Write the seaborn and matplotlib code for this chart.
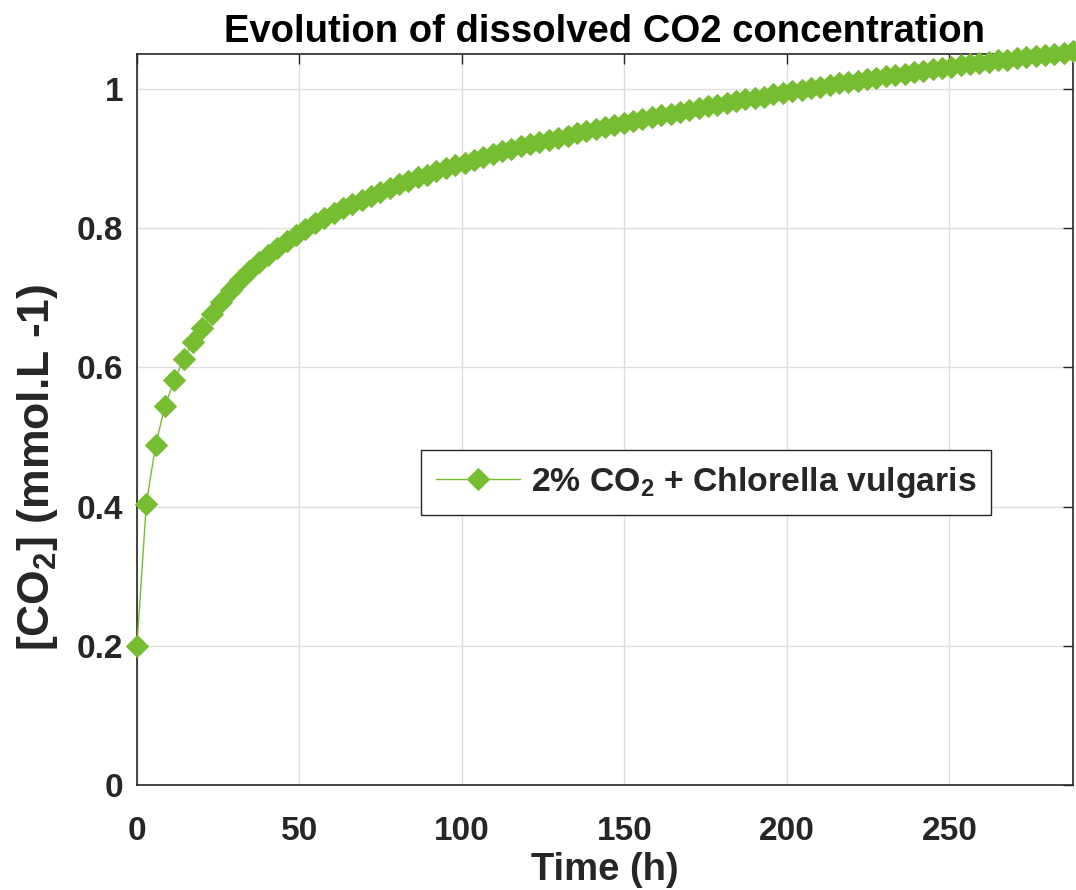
import matplotlib
matplotlib.use("Agg")
import matplotlib.pyplot as plt
import matplotlib.ticker as mticker
import seaborn as sns
import pandas as pd

# Time points (h), one marker every 2.88 h over 12 days
time_h = [0.00, 2.88, 5.76, 8.64, 11.52, 14.40, 17.28, 20.16, 23.04, 25.92,
          28.80, 31.68, 34.56, 37.44, 40.32, 43.20, 46.08, 48.96, 51.84, 54.72,
          57.60, 60.48, 63.36, 66.24, 69.12, 72.00, 74.88, 77.76, 80.64, 83.52,
          86.40, 89.28, 92.16, 95.04, 97.92, 100.80, 103.68, 106.56, 109.44, 112.32,
          115.20, 118.08, 120.96, 123.84, 126.72, 129.60, 132.48, 135.36, 138.24, 141.12,
          144.00, 146.88, 149.76, 152.64, 155.52, 158.40, 161.28, 164.16, 167.04, 169.92,
          172.80, 175.68, 178.56, 181.44, 184.32, 187.20, 190.08, 192.96, 195.84, 198.72,
          201.60, 204.48, 207.36, 210.24, 213.12, 216.00, 218.88, 221.76, 224.64, 227.52,
          230.40, 233.28, 236.16, 239.04, 241.92, 244.80, 247.68, 250.56, 253.44, 256.32,
          259.20, 262.08, 264.96, 267.84, 270.72, 273.60, 276.48, 279.36, 282.24, 285.12,
          288.00]

# Dissolved CO2 concentration (mmol/L)
co2_conc = [0.200, 0.404, 0.489, 0.545, 0.582, 0.612, 0.637, 0.656, 0.676, 0.694,
            0.711, 0.726, 0.739, 0.751, 0.761, 0.771, 0.781, 0.790, 0.799, 0.807,
            0.815, 0.822, 0.829, 0.834, 0.840, 0.846, 0.852, 0.857, 0.863, 0.868,
            0.873, 0.877, 0.882, 0.886, 0.890, 0.894, 0.898, 0.902, 0.907, 0.911,
            0.914, 0.918, 0.921, 0.924, 0.927, 0.930, 0.933, 0.936, 0.939, 0.942,
            0.945, 0.948, 0.951, 0.954, 0.957, 0.959, 0.962, 0.964, 0.967, 0.970,
            0.972, 0.975, 0.977, 0.980, 0.982, 0.985, 0.987, 0.989, 0.992, 0.994,
            0.997, 0.999, 1.001, 1.003, 1.006, 1.008, 1.010, 1.012, 1.014, 1.016,
            1.018, 1.020, 1.022, 1.024, 1.026, 1.028, 1.030, 1.032, 1.034, 1.036,
            1.037, 1.039, 1.041, 1.042, 1.044, 1.046, 1.047, 1.049, 1.050, 1.052,
            1.054]

series_label = r"2% CO$_\mathbf{2}$ + Chlorella vulgaris"
x_ticks = [0, 50, 100, 150, 200, 250]
y_ticks = [0, 0.2, 0.4, 0.6, 0.8, 1.0]

sns.set_style("white")
plt.rcParams["font.family"] = ["Liberation Sans", "DejaVu Sans"]
plt.rcParams["font.weight"] = "bold"
plt.rcParams["mathtext.fontset"] = "custom"
plt.rcParams["mathtext.rm"] = "Liberation Sans:bold"
plt.rcParams["mathtext.bf"] = "Liberation Sans:bold"
plt.rcParams["mathtext.default"] = "bf"

green = "#77BD32"
df = pd.DataFrame({"time": time_h, "co2": co2_conc})

fig = plt.figure(figsize=(10.76, 8.90), dpi=100)
ax = fig.add_axes([0.1273, 0.118, 0.8699, 0.8212])

sns.lineplot(data=df, x="time", y="co2", ax=ax, color=green, linewidth=1.0,
             marker="D", markersize=11.5, markeredgecolor=green,
             markerfacecolor=green, label=series_label, clip_on=False,
             zorder=3)

ax.set_xlim(0, 288)
ax.set_ylim(0, 1.05)
ax.set_xticks(x_ticks)
ax.set_yticks(y_ticks)
ax.yaxis.set_major_formatter(mticker.FuncFormatter(lambda v, p: f"{v:g}"))
ax.grid(True, color="#dedede", linewidth=1.0)
ax.set_axisbelow(True)
for s in ax.spines.values():
    s.set_color("#262626")
    s.set_linewidth(1.2)
    s.set_zorder(2)
ax.tick_params(axis="both", direction="in", length=7, width=1.0,
               colors="#262626", labelsize=24, top=True, right=True,
               labelcolor="#262626")
ax.tick_params(axis="x", pad=22)
ax.tick_params(axis="y", pad=10)
for lab in ax.get_xticklabels() + ax.get_yticklabels():
    lab.set_fontweight("bold")

ax.set_xlabel("Time (h)", fontsize=27.5, fontweight="bold", color="#262626",
              labelpad=4)
ax.set_ylabel(r"[CO$_\mathbf{2}$] (mmol.L -1)", fontsize=32, fontweight="bold",
              color="#262626")
ax.yaxis.set_label_coords(-0.082, 0.435)
ax.set_title("Evolution of dissolved CO2 concentration", fontsize=27.5,
             fontweight="bold", color="black", pad=9)

leg = ax.legend(loc="center", bbox_to_anchor=(0.608, 0.414), fontsize=24.3,
                frameon=True, fancybox=False, framealpha=1, edgecolor="#262626",
                handlelength=2.5, borderpad=0.45, handletextpad=0.3)
leg.get_frame().set_linewidth(1.0)
for t in leg.get_texts():
    t.set_fontweight("bold")

fig.savefig("out.png", dpi=100)
